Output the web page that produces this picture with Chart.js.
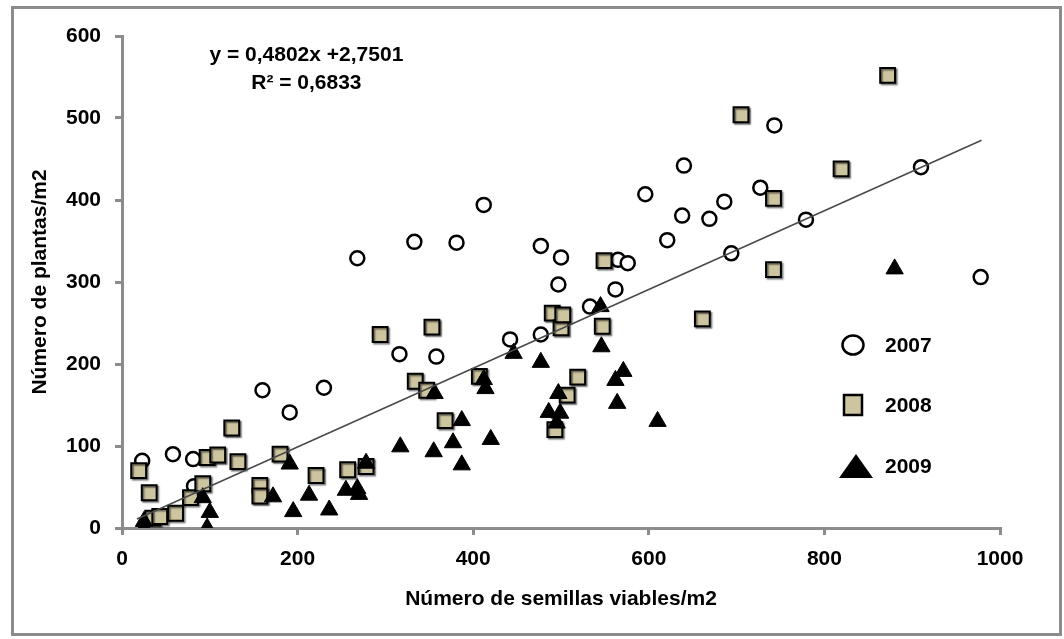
<!DOCTYPE html>
<html>
<head>
<meta charset="utf-8">
<script src="https://cdn.jsdelivr.net/npm/chart.js@4.4.0/dist/chart.umd.min.js"></script>
<style>
  body { margin: 0; background: #fff; }
  canvas { display: block; }
</style>
</head>
<body>
<canvas id="myChart" width="1064" height="639"></canvas>
<script>
const FONT = '"Liberation Sans", Arial, sans-serif';
const GREY = "#8c8c8c";

// [seeds/m2, plants/m2] per plot
const pts_2007 = [
  [23, 82], [58, 90], [81, 84], [82, 51], [160, 168], [191, 141], [230, 171], [268, 329],
  [316, 212], [333, 349], [358, 209], [381, 348], [412, 394], [442, 230], [477, 236], [477, 344],
  [497, 297], [500, 330], [533, 270], [562, 291], [565, 327], [576, 323], [596, 407], [621, 351],
  [638, 381], [640, 442], [669, 377], [686, 398], [694, 335], [727, 415], [743, 491], [779, 376],
  [910, 440], [978, 306],
];
const pts_2008 = [
  [19, 70], [31, 43], [35, 12], [43, 14], [61, 18], [78, 37], [92, 54], [97, 86], [109, 89],
  [125, 122], [132, 81], [157, 52], [157, 39], [180, 90], [221, 64], [257, 71], [278, 75],
  [294, 236], [334, 179], [347, 168], [353, 245], [368, 131], [407, 185], [490, 262], [493, 120],
  [500, 244], [502, 260], [507, 162], [519, 184], [547, 246], [549, 326], [661, 255], [705, 504],
  [742, 315], [742, 402], [819, 438], [872, 552],
];
const pts_2009 = [
  [25, 0], [25, 8], [92, 37], [97, 0], [100, 19], [172, 38], [191, 78], [195, 20], [213, 40],
  [236, 22], [255, 46], [268, 48], [270, 41], [278, 79], [317, 99], [355, 93], [356, 164],
  [377, 104], [387, 77], [387, 131], [412, 181], [414, 170], [420, 108], [446, 213], [477, 202],
  [486, 141], [495, 128], [497, 164], [499, 140], [545, 270], [546, 221], [562, 180], [564, 152],
  [571, 191], [610, 130], [880, 316],
];

// linear fit over all years
const slope = 0.4802;
const intercept = 2.7501;
const r2 = 0.6833;
const fitRange = [17, 979];

const years = ["2007", "2008", "2009"];

const toXY = (arr) => arr.map((p) => ({ x: p[0], y: p[1] }));
const comma = (v) => String(v).replace(".", ",");

const data = {
  datasets: [
    {
      label: "fit",
      type: "line",
      data: fitRange.map((x) => ({ x: x, y: slope * x + intercept })),
      borderColor: "#4a4a4a",
      borderWidth: 1.6,
      pointRadius: 0,
      fill: false,
      order: 0,
    },
    {
      label: years[2],
      data: toXY(pts_2009),
      pointStyle: "triangle",
      radius: 10,
      backgroundColor: "#000",
      borderColor: "#000",
      borderWidth: 1,
      order: 1,
    },
    {
      label: years[1],
      data: toXY(pts_2008),
      pointStyle: "rect",
      radius: 10.5,
      backgroundColor: "#cdc4a0",
      borderColor: "#000",
      borderWidth: 2,
      order: 2,
    },
    {
      label: years[0],
      data: toXY(pts_2007),
      pointStyle: "circle",
      radius: 7,
      backgroundColor: "#fff",
      borderColor: "#000",
      borderWidth: 2.5,
      order: 3,
    },
  ],
};

// grey frame round the whole figure
const framePlugin = {
  id: "frame",
  afterDraw(chart) {
    const ctx = chart.ctx;
    ctx.save();
    ctx.strokeStyle = GREY;
    ctx.lineWidth = 3;
    ctx.strokeRect(12.5, 7.5, 1048, 627);
    ctx.restore();
  },
};

// little drop shadow under the squares
const shadowPlugin = {
  id: "shadow",
  beforeDatasetDraw(chart, args) {
    if (chart.data.datasets[args.index].pointStyle !== "rect") return;
    const ctx = chart.ctx;
    ctx.save();
    ctx.shadowColor = "rgba(0,0,0,0.55)";
    ctx.shadowOffsetX = 1.5;
    ctx.shadowOffsetY = 1.5;
    ctx.shadowBlur = 1.5;
  },
  afterDatasetDraw(chart, args) {
    if (chart.data.datasets[args.index].pointStyle !== "rect") return;
    chart.ctx.restore();
  },
};

// regression equation at the top left
const equationPlugin = {
  id: "equation",
  afterDraw(chart) {
    const ctx = chart.ctx;
    const cx = chart.scales.x.getPixelForValue(210);
    ctx.save();
    ctx.fillStyle = "#000";
    ctx.font = "bold 21px " + FONT;
    ctx.textAlign = "center";
    ctx.textBaseline = "middle";
    ctx.fillText("y = " + comma(slope) + "x +" + comma(intercept), cx, 55);
    ctx.fillText("R\u00b2 = " + comma(r2), cx, 83);
    ctx.restore();
  },
};

// legend inside the plot, right side
const legendPlugin = {
  id: "yearLegend",
  afterDraw(chart) {
    const ctx = chart.ctx;
    const mx = 853;
    const rows = [345, 405, 466];
    ctx.save();
    ctx.strokeStyle = "#000";
    // 2007
    ctx.fillStyle = "#fff";
    ctx.lineWidth = 2.5;
    ctx.beginPath();
    ctx.ellipse(mx, rows[0], 10.5, 9.5, 0, 0, Math.PI * 2);
    ctx.fill();
    ctx.stroke();
    // 2008
    ctx.fillStyle = "#cdc4a0";
    ctx.fillRect(mx - 9, rows[1] - 10, 18, 20);
    ctx.strokeRect(mx - 9, rows[1] - 10, 18, 20);
    // 2009
    ctx.fillStyle = "#000";
    ctx.beginPath();
    ctx.moveTo(mx + 3, rows[2] - 12);
    ctx.lineTo(mx + 20, rows[2] + 12);
    ctx.lineTo(mx - 14, rows[2] + 12);
    ctx.closePath();
    ctx.fill();

    ctx.font = "bold 21px " + FONT;
    ctx.textAlign = "left";
    ctx.textBaseline = "middle";
    years.forEach((y, i) => ctx.fillText(y, 885, rows[i] + 1));
    ctx.restore();
  },
};

const tickFont = { family: FONT, size: 21, weight: "bold" };

const config = {
  type: "scatter",
  data: data,
  options: {
    responsive: false,
    animation: false,
    layout: {
      padding: { left: 12, right: 64, top: 36, bottom: 0 },
    },
    scales: {
      x: {
        type: "linear",
        min: 0,
        max: 1000,
        border: { color: GREY, width: 3 },
        grid: {
          drawOnChartArea: false,
          drawTicks: true,
          tickLength: 7,
          color: GREY,
          lineWidth: 3,
        },
        ticks: {
          stepSize: 200,
          padding: 12,
          color: "#000",
          font: tickFont,
          callback: (v) => String(v),
        },
        title: {
          display: true,
          text: "Número de semillas viables/m2",
          color: "#000",
          font: tickFont,
          padding: { top: 0, bottom: 27 },
        },
        afterFit: (s) => {
          s.height = 111;
        },
      },
      y: {
        type: "linear",
        min: 0,
        max: 600,
        border: { color: GREY, width: 3 },
        grid: {
          drawOnChartArea: false,
          drawTicks: true,
          tickLength: 7,
          color: GREY,
          lineWidth: 3,
        },
        ticks: {
          stepSize: 100,
          padding: 14,
          color: "#000",
          font: tickFont,
          callback: (v) => String(v),
        },
        title: {
          display: true,
          text: "Número de plantas/m2",
          color: "#000",
          font: tickFont,
          padding: { top: 16, bottom: 0 },
        },
        afterFit: (s) => {
          s.width = 110;
        },
      },
    },
    plugins: {
      legend: { display: false },
      tooltip: { enabled: false },
    },
  },
  plugins: [shadowPlugin, equationPlugin, legendPlugin, framePlugin],
};

var myChart = new Chart(document.getElementById("myChart"), config);
</script>
</body>
</html>
